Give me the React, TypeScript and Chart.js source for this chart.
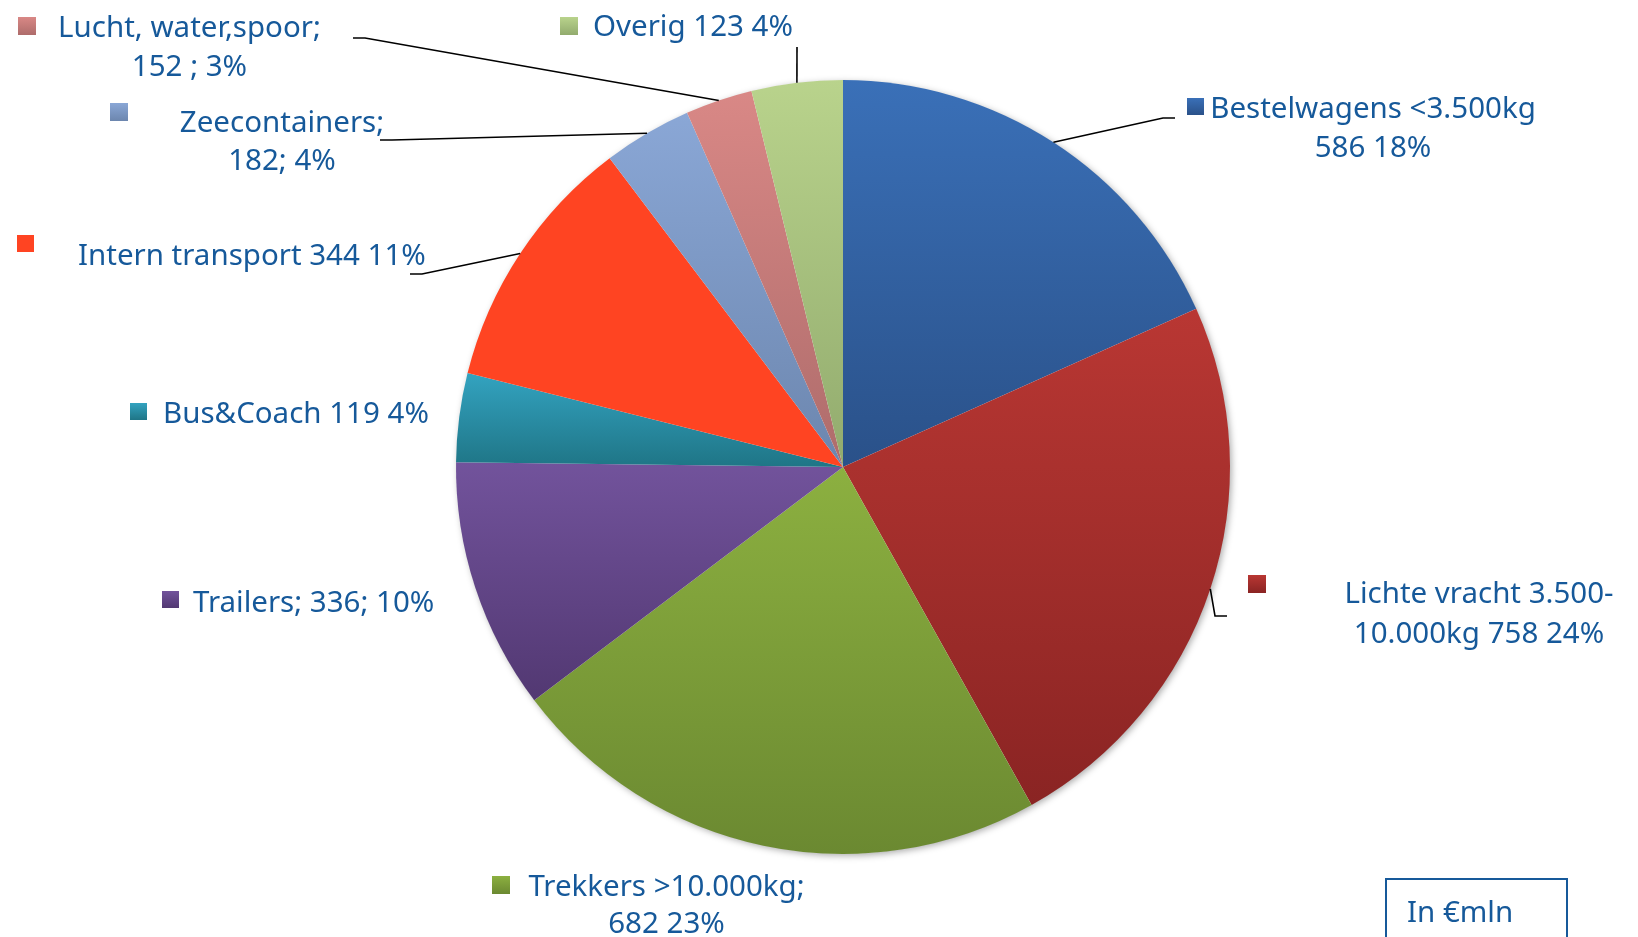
import React, { useEffect, useRef } from "react";
import { Chart, registerables } from "chart.js";

Chart.register(...registerables);

// ---- data ----
const categories = [
  "Bestelwagens <3.500kg",
  "Lichte vracht 3.500-10.000kg",
  "Trekkers >10.000kg",
  "Trailers",
  "Bus&Coach",
  "Intern transport",
  "Zeecontainers",
  "Lucht, water,spoor",
  "Overig",
];
const valuesMln = [586, 758, 682, 336, 119, 344, 182, 152, 123];
const percentLabels = [18, 24, 23, 10, 4, 11, 4, 3, 4];
// slice shares as drawn in the picture (percent)
const shares = [18.3, 23.6, 22.8, 10.5, 3.7, 10.8, 3.7, 2.8, 3.8];
const unitLabel = "In €mln";

const labelLines: string[][] = [
  ["Bestelwagens <3.500kg", `${valuesMln[0]} ${percentLabels[0]}%`],
  ["Lichte vracht 3.500-", `10.000kg ${valuesMln[1]} ${percentLabels[1]}%`],
  ["Trekkers >10.000kg;", `${valuesMln[2]} ${percentLabels[2]}%`],
  [`Trailers; ${valuesMln[3]}; ${percentLabels[3]}%`],
  [`Bus&Coach ${valuesMln[4]} ${percentLabels[4]}%`],
  [`Intern transport ${valuesMln[5]} ${percentLabels[5]}%`],
  ["Zeecontainers;", `${valuesMln[6]}; ${percentLabels[6]}%`],
  ["Lucht, water,spoor;", `${valuesMln[7]} ; ${percentLabels[7]}%`],
  [`Overig ${valuesMln[8]} ${percentLabels[8]}%`],
];

// ---- styles ----
const gradTop = ["#3A70B8", "#B93733", "#8CB040", "#72539C", "#33A3C0", "#FF4422", "#8AA7D6", "#D98886", "#B9D38C"];
const gradBottom = ["#2A5189", "#8A2423", "#6B8931", "#523872", "#1F7586", "#FF4422", "#6C86AE", "#AE6C6B", "#92AB6E"];
const TEXT_COLOR = "#16599A";
const FONT = '29.5px "Noto Sans"';

type Layout = {
  marker: [number, number, number];
  align: "left" | "center";
  x: number;
  baselines: number[];
  leader?: [number, number][];
};
const layouts: Layout[] = [
  { marker: [1187, 98, 17], align: "center", x: 1373, baselines: [118, 157], leader: [[1163, 118], [1175, 118]] },
  { marker: [1248, 575, 18], align: "center", x: 1479, baselines: [603, 643], leader: [[1215, 616], [1227, 616]] },
  { marker: [492, 876, 18], align: "center", x: 666.5, baselines: [896, 933] },
  { marker: [162, 591, 17], align: "left", x: 193, baselines: [612] },
  { marker: [130, 403, 17], align: "left", x: 163, baselines: [423] },
  { marker: [17, 235, 17], align: "left", x: 78, baselines: [265], leader: [[422, 274], [410, 274]] },
  { marker: [110, 103, 18], align: "center", x: 282, baselines: [132, 170], leader: [[392, 140], [380, 140]] },
  { marker: [18, 17, 18], align: "center", x: 189.5, baselines: [37, 76], leader: [[365, 38], [353, 38]] },
  { marker: [560, 17, 18], align: "left", x: 593, baselines: [36], leader: [[797, 47]] },
];

function sliceGradient(context: any) {
  const chart = context.chart;
  const i = context.dataIndex;
  const area = chart.chartArea;
  if (!area) return gradTop[i];
  const cx = (area.left + area.right) / 2;
  const cy = (area.top + area.bottom) / 2;
  const r = Math.min(area.right - area.left, area.bottom - area.top) / 2;
  const data: number[] = context.dataset.data;
  const total = data.reduce((a, b) => a + b, 0);
  let before = 0;
  for (let k = 0; k < i; k++) before += data[k];
  const a0 = -Math.PI / 2 + (before / total) * Math.PI * 2;
  const a1 = a0 + (data[i] / total) * Math.PI * 2;
  let minY = cy, maxY = cy;
  const ys = [cy + Math.sin(a0) * r, cy + Math.sin(a1) * r];
  for (const t of [-Math.PI / 2, Math.PI / 2, (3 * Math.PI) / 2]) {
    if (t >= a0 && t <= a1) ys.push(cy + Math.sin(t) * r);
  }
  for (const y of ys) { minY = Math.min(minY, y); maxY = Math.max(maxY, y); }
  const g = chart.ctx.createLinearGradient(0, minY, 0, maxY);
  g.addColorStop(0, gradTop[i]);
  g.addColorStop(1, gradBottom[i]);
  return g;
}

const shadowPlugin = {
  id: "pieShadow",
  beforeDatasetsDraw(chart: any) {
    const arc = chart.getDatasetMeta(0).data[0];
    if (!arc) return;
    const { x, y, outerRadius } = arc.getProps(["x", "y", "outerRadius"], true);
    const ctx = chart.ctx;
    ctx.save();
    ctx.shadowColor = "rgba(0,0,0,0.35)";
    ctx.shadowBlur = 7;
    ctx.shadowOffsetX = 2;
    ctx.shadowOffsetY = 2;
    ctx.fillStyle = "#ffffff";
    ctx.beginPath();
    ctx.arc(x, y, outerRadius - 0.5, 0, Math.PI * 2);
    ctx.fill();
    ctx.restore();
  },
};

const labelPlugin = {
  id: "pieLabels",
  afterDatasetsDraw(chart: any) {
    const ctx = chart.ctx;
    const meta = chart.getDatasetMeta(0);
    ctx.save();
    meta.data.forEach((arc: any, i: number) => {
      const L = layouts[i];
      const { x, y, startAngle, endAngle, outerRadius } = arc.getProps(
        ["x", "y", "startAngle", "endAngle", "outerRadius"], true);
      if (L.leader) {
        const mid = (startAngle + endAngle) / 2;
        ctx.beginPath();
        ctx.moveTo(x + Math.cos(mid) * outerRadius, y + Math.sin(mid) * outerRadius);
        for (const p of L.leader) ctx.lineTo(p[0], p[1]);
        ctx.strokeStyle = "#000000";
        ctx.lineWidth = 1.6;
        ctx.stroke();
      }
      const [mx, my, ms] = L.marker;
      const g = ctx.createLinearGradient(0, my, 0, my + ms);
      g.addColorStop(0, gradTop[i]);
      g.addColorStop(1, gradBottom[i]);
      ctx.fillStyle = g;
      ctx.fillRect(mx, my, ms, ms);
      ctx.font = FONT;
      ctx.fillStyle = TEXT_COLOR;
      ctx.textAlign = L.align;
      ctx.textBaseline = "alphabetic";
      labelLines[i].forEach((line, k) => ctx.fillText(line, L.x, L.baselines[k]));
    });
    ctx.strokeStyle = TEXT_COLOR;
    ctx.lineWidth = 2;
    ctx.strokeRect(1386, 879, 181, 80);
    ctx.font = FONT;
    ctx.fillStyle = TEXT_COLOR;
    ctx.textAlign = "left";
    ctx.fillText(unitLabel, 1407, 922);
    ctx.restore();
  },
};

export default function App() {
  const canvasRef = useRef<HTMLCanvasElement | null>(null);
  useEffect(() => {
    document.body.style.margin = "0";
    const canvas = canvasRef.current;
    if (!canvas) return;
    const chart = new Chart(canvas, {
      type: "pie",
      data: {
        labels: categories,
        datasets: [
          {
            data: shares,
            backgroundColor: sliceGradient as any,
            borderWidth: 0,
          },
        ],
      },
      options: {
        responsive: false,
        animation: false,
        layout: { padding: { top: 80, bottom: 83, left: 456, right: 408 } },
        plugins: {
          legend: { display: false },
          tooltip: { enabled: false },
          title: { display: false },
        },
      },
      plugins: [shadowPlugin, labelPlugin],
    });
    return () => chart.destroy();
  }, []);
  return (
    <div style={{ width: 1638, height: 937, overflow: "hidden", background: "#ffffff" }}>
      <canvas ref={canvasRef} width={1638} height={937} style={{ display: "block" }} />
    </div>
  );
}
